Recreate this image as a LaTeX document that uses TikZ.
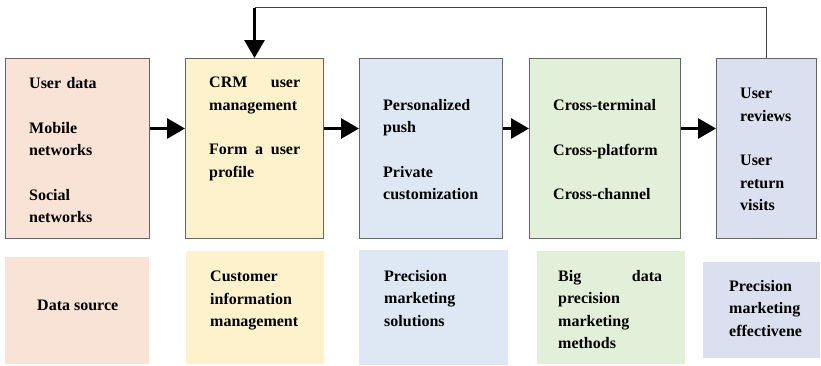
\documentclass[tikz,border=0pt]{standalone}
\usepackage{fontspec}
\setmainfont{Liberation Serif}
\usetikzlibrary{arrows.meta}

\definecolor{srccol}{HTML}{F9E3D6}
\definecolor{crmcol}{HTML}{FEF2CC}
\definecolor{solcol}{HTML}{DEE8F4}
\definecolor{metcol}{HTML}{E2F0D9}
\definecolor{effcol}{HTML}{DAE0F0}

\tikzset{
  stage/.style={draw=black!60, line width=1pt, anchor=north west, inner sep=0pt, minimum height=180pt},
  area/.style={anchor=north west, inner sep=0pt},
  lbl/.style={anchor=north west, inner sep=0pt, align=left, font=\fontsize{16}{22.4}\selectfont\bfseries},
  flow/.style={line width=3pt, -{Triangle[length=18pt,width=20pt]}},
}

\begin{document}
\begin{tikzpicture}[x=1pt,y=-1pt]
\useasboundingbox (0,0) rectangle (821,365);
% top row
\node[stage, fill=srccol, minimum width=144pt] (b1) at (5,58) {};
\node[stage, fill=crmcol, minimum width=138pt] (b2) at (185,58) {};
\node[stage, fill=solcol, minimum width=143pt] (b3) at (359,58) {};
\node[stage, fill=metcol, minimum width=151pt] (b4) at (529,58) {};
\node[stage, fill=effcol, minimum width=100pt] (b5) at (716,58) {};
\node[lbl, text width=96pt] (t1) at ([shift={(24,19)}]b1.north west) {User data\\[22.4pt]Mobile\\networks\\[22.4pt]Social\\networks};
\node[lbl, text width=91pt] (t2) at ([shift={(24,19)}]b2.north west) {CRM\hfill user\\management\\[22.4pt]Form\hfill a\hfill user\\profile};
\node[lbl, text width=100pt] (t3) at ([shift={(24,41)}]b3.north west) {Personalized\\push\\[22.4pt]Private\\customization};
\node[lbl, text width=110pt] (t4) at ([shift={(24,41)}]b4.north west) {Cross-terminal\\[22.4pt]Cross-platform\\[22.4pt]Cross-channel};
\node[lbl, text width=60pt] (t5) at ([shift={(24,30)}]b5.north west) {User\\reviews\\[22.4pt]User\\return\\visits};
% bottom row
\node[area, fill=srccol, minimum width=144pt, minimum height=107pt] (c1) at (5,257) {};
\node[area, fill=crmcol, minimum width=138pt, minimum height=113pt] (c2) at (186,251) {};
\node[area, fill=solcol, minimum width=149pt, minimum height=115pt] (c3) at (359,250) {};
\node[area, fill=metcol, minimum width=148pt, minimum height=113pt] (c4) at (537,251) {};
\node[area, fill=effcol, minimum width=117pt, minimum height=96pt] (c5) at (703,262) {};
\node[lbl] (d1) at ([shift={(32,43)}]c1.north west) {Data source};
\node[lbl] (d2) at ([shift={(24,20)}]c2.north west) {Customer\\information\\management};
\node[lbl] (d3) at ([shift={(25,20)}]c3.north west) {Precision\\marketing\\solutions};
\node[lbl, text width=104pt] (d4) at ([shift={(21,19)}]c4.north west) {Big\hfill data\\precision\\marketing\\methods};
\node[lbl] (d5) at ([shift={(26,18)}]c5.north west) {Precision\\marketing\\effectivene};
% arrows
\draw[flow] ([yshift=20pt]b1.east) -- ([yshift=20pt]b2.west);
\draw[flow] ([yshift=20pt]b2.east) -- ([yshift=20pt]b3.west);
\draw[flow] ([yshift=20pt]b3.east) -- ([yshift=20pt]b4.west);
\draw[flow] ([yshift=20pt]b4.east) -- ([yshift=20pt]b5.west);
% feedback
\coordinate (fbtop) at (0,7);
\draw[line width=1pt, black!75] (b5.north) -- (b5.north |- fbtop) -- (b2.north |- fbtop);
\draw[flow] ([yshift=-0.5pt]b2.north |- fbtop) -- (b2.north);
\end{tikzpicture}
\end{document}
